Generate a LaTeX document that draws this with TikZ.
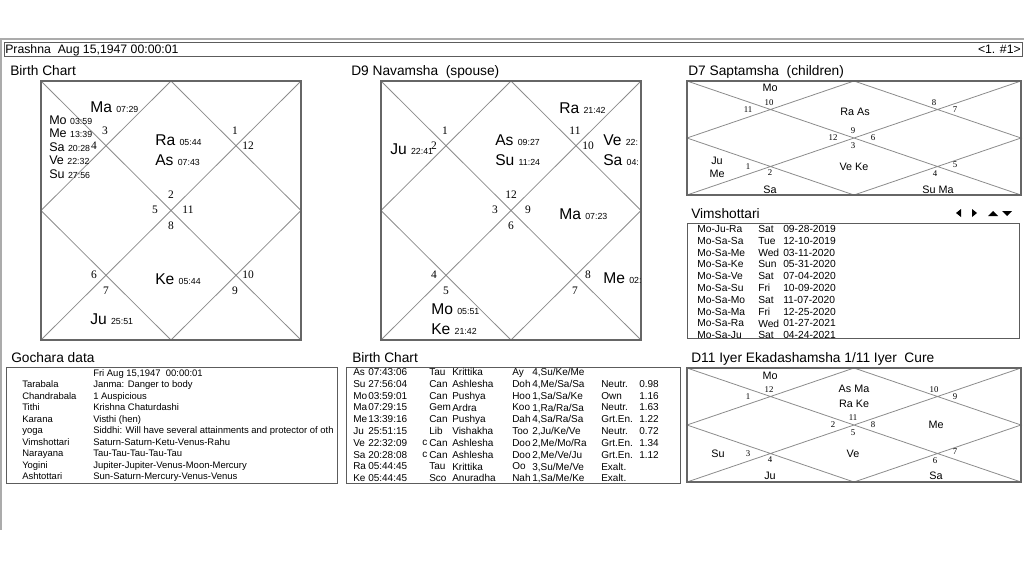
\documentclass[tikz,border=0pt]{standalone}
\usepackage{fontspec}
\setmainfont{Liberation Sans}
\newfontfamily\numfont{Liberation Serif}
\usepackage{tikz}
\definecolor{frameGray}{HTML}{666666}
\definecolor{lineGray}{HTML}{8C8C8C}
\definecolor{edgeGray}{HTML}{ABABAB}
\definecolor{boxGray}{HTML}{5C5C5C}
\newcommand{\ptime}[1]{{\fontsize{6.6}{8}\selectfont #1}}

\begin{document}
\begin{tikzpicture}[x=0.75pt, y=-0.75pt,
  every node/.style={inner sep=0pt, text depth=0pt},
  bartext/.style={anchor=west, font=\fontsize{9.2}{11}\selectfont},
  paneltitle/.style={anchor=west, font=\fontsize{10.3}{12}\selectfont},
  bigpl/.style={anchor=west, font=\fontsize{11.7}{14}\selectfont},
  midpl/.style={anchor=west, font=\fontsize{9.4}{11}\selectfont},
  smallpl/.style={font=\fontsize{8.1}{10}\selectfont},
  hnum/.style={font=\numfont\fontsize{8.6}{10}\selectfont},
  snum/.style={font=\numfont\fontsize{6.6}{8}\selectfont},
  gochrow/.style={anchor=west, font=\fontsize{7.1}{9}\selectfont},
  vimrow/.style={anchor=west, font=\fontsize{7.7}{9}\selectfont},
  bcrow/.style={anchor=west, font=\fontsize{7.5}{9}\selectfont},
  chartline/.style={draw=lineGray, line width=0.6pt},
  chartframe/.style={draw=frameGray, line width=1.5pt},
  databox/.style={draw=boxGray, line width=0.6pt}]
  \path[use as bounding box, fill=white] (0,0) rectangle (1024,576);

  % window edge and header bar
  \draw[edgeGray, line width=0.8pt] (0,39) -- (1024,39) (1,39) -- (1,530);
  \draw[databox] (4,42) rectangle (1022,56);
  \node[bartext] (bar) at (5,49) {Prashna\ \ Aug 15,1947 00:00:01};
  \node[bartext, anchor=east] (page) at (1021,49) {<1. \#1>};

  % panel titles
  \node[paneltitle] (t1) at (10,71) {Birth Chart};
  \node[paneltitle] (t9) at (351,71) {D9 Navamsha\ \ (spouse)};
  \node[paneltitle] (t7) at (688,71) {D7 Saptamsha\ \ (children)};
  \node[paneltitle] (tv) at (691,214) {Vimshottari};
  \node[paneltitle] (tg) at (11,358) {Gochara data};
  \node[paneltitle] (tb) at (352,358) {Birth Chart};
  \node[paneltitle] (t11) at (691,358) {D11 Iyer Ekadashamsha 1/11 Iyer\ \ Cure};

  % square charts, D1 and D9
  \foreach \cn/\dx/\asc in {d1/0/2, d9/340/12} {
    \begin{scope}[shift={(\dx,0)}]
      \draw[chartline] (41,81) -- (301,340) (301,81) -- (41,340)
        (171,81) -- (301,210.5) -- (171,340) -- (41,210.5) -- cycle;
      \foreach \h/\x/\y in {1/171/195, 2/105/131, 3/94/146, 4/155/210,
          5/94/275, 6/106/291, 7/171/226, 8/235/291, 9/248/275,
          10/188/210, 11/248/146, 12/235/131} {
        \pgfmathtruncatemacro{\s}{mod(\h+\asc-2,12)+1}
        \node[hnum] (\cn h\h) at (\x,\y) {\s};
      }
      \draw[chartframe] (41,81) rectangle (301,340);
    \end{scope}
  }
  \foreach \pn/\tm/\x/\y [count=\i] in {Ma/07:29/90/107, Ra/05:44/155/140,
      As/07:43/155/160, Ke/05:44/155/279, Ju/25:51/90/319}
    \node[bigpl] (d1p\i) at (\x,\y) {\pn{} \ptime{\tm}};
  \foreach \pn/\tm/\x/\y [count=\i] in {Mo/03:59/49/120, Me/13:39/49/133,
      Sa/20:28/49/147, Ve/22:32/49/160, Su/27:56/49/174}
    \node[midpl] (d1m\i) at (\x,\y) {\pn{} \ptime{\tm}};
  \foreach \pn/\tm/\x/\y [count=\i] in {Ju/22:41/390/149, As/09:27/495/140,
      Su/11:24/495/160, Ra/21:42/559/108, Ve/22:/603/140, Sa/04:/603/160,
      Ma/07:23/559/214, Me/02:/603/278, Mo/05:51/431/309, Ke/21:42/431/329}
    \node[bigpl] (d9p\i) at (\x,\y) {\pn{} \ptime{\tm}};

  % flat charts, D7 and D11
  \foreach \cn/\dy/\asc in {d7/0/9, d11/287/11} {
    \begin{scope}[shift={(0,\dy)}]
      \draw[chartline] (687,81) -- (1021,195) (1021,81) -- (687,195)
        (854,81) -- (1021,138) -- (854,195) -- (687,138) -- cycle;
      \foreach \h/\x/\y in {1/853/131, 2/769/103, 3/748/110, 4/833/138,
          5/748/167, 6/770/173, 7/853/146, 8/935/174, 9/955/165,
          10/873/138, 11/955/110, 12/934/103} {
        \pgfmathtruncatemacro{\s}{mod(\h+\asc-2,12)+1}
        \node[snum] (\cn h\h) at (\x,\y) {\s};
      }
      \draw[chartframe] (687,81) rectangle (1021,195);
    \end{scope}
  }
  \foreach \tx/\x/\y [count=\i] in {Mo/770/88, Ra As/855/112, Ju/717/161,
      Me/717/174, Sa/770/190, Ve Ke/854/167, Su Ma/938/190}
    \node[smallpl] (d7p\i) at (\x,\y) {\tx};
  \foreach \tx/\x/\y [count=\i] in {Mo/770/376, As Ma/854/389, Ra Ke/854/404,
      Me/936/425, Su/718/454, Ve/853/454, Ju/770/476, Sa/936/476}
    \node[smallpl] (d11p\i) at (\x,\y) {\tx};

  % Vimshottari list
  \fill (956,213) -- (961,209) -- (961,217) -- cycle;
  \fill (972,209) -- (977,213) -- (972,217) -- cycle;
  \fill (988,216) -- (993,211) -- (998,216) -- cycle;
  \fill (1002,211) -- (1012,211) -- (1007,216) -- cycle;
  \draw[databox] (687,223) rectangle (1019,338);
  \foreach \dname/\dday/\ddate [count=\i from 0] in {
      Mo-Ju-Ra/Sat/09-28-2019, Mo-Sa-Sa/Tue/12-10-2019,
      Mo-Sa-Me/Wed/03-11-2020, Mo-Sa-Ke/Sun/05-31-2020,
      Mo-Sa-Ve/Sat/07-04-2020, Mo-Sa-Su/Fri/10-09-2020,
      Mo-Sa-Mo/Sat/11-07-2020, Mo-Sa-Ma/Fri/12-25-2020,
      Mo-Sa-Ra/Wed/01-27-2021, Mo-Sa-Ju/Sat/04-24-2021} {
    \node[vimrow] (vn\i) at (697,{229+11.8*\i}) {\dname};
    \node[vimrow] (vw\i) at (758,{229+11.8*\i}) {\dday};
    \node[vimrow] (vd\i) at (783,{229+11.8*\i}) {\ddate};
  }

  % Gochara data
  \draw[databox] (6,367) rectangle (337,483);
  \node[gochrow] (gdate) at (93,373) {Fri Aug 15,1947\ \ 00:00:01};
  \begin{scope}
    \clip (6,367) rectangle (337,483);
    \foreach \gk/\gv [count=\i] in {Tarabala/Janma: Danger to body,
        Chandrabala/1 Auspicious, Tithi/Krishna Chaturdashi,
        Karana/Visthi (hen),
        yoga/Siddhi: Will have several attainments and protector of oth,
        Vimshottari/Saturn-Saturn-Ketu-Venus-Rahu,
        Narayana/Tau-Tau-Tau-Tau-Tau,
        Yogini/Jupiter-Jupiter-Venus-Moon-Mercury,
        Ashtottari/Sun-Saturn-Mercury-Venus-Venus} {
      \node[gochrow] (gk\i) at (22,{373+11.5*\i}) {\gk};
      \node[gochrow] (gv\i) at (93,{373+11.5*\i}) {\gv};
    }
  \end{scope}

  % Birth chart table
  \draw[databox] (346,367) rectangle (680,483);
  \foreach \pn/\dg/\rt/\sg/\nk/\sy/\pd/\dig/\sv [count=\i from 0] in {
      As/07:43:06/{}/Tau/Krittika/Ay/{4,Su/Ke/Me}/{}/{},
      Su/27:56:04/{}/Can/Ashlesha/Doh/{4,Me/Sa/Sa}/Neutr./0.98,
      Mo/03:59:01/{}/Can/Pushya/Hoo/{1,Sa/Sa/Ke}/Own/1.16,
      Ma/07:29:15/{}/Gem/Ardra/Koo/{1,Ra/Ra/Sa}/Neutr./1.63,
      Me/13:39:16/{}/Can/Pushya/Dah/{4,Sa/Ra/Sa}/Grt.En./1.22,
      Ju/25:51:15/{}/Lib/Vishakha/Too/{2,Ju/Ke/Ve}/Neutr./0.72,
      Ve/22:32:09/c/Can/Ashlesha/Doo/{2,Me/Mo/Ra}/Grt.En./1.34,
      Sa/20:28:08/c/Can/Ashlesha/Doo/{2,Me/Ve/Ju}/Grt.En./1.12,
      Ra/05:44:45/{}/Tau/Krittika/Oo/{3,Su/Me/Ve}/Exalt./{},
      Ke/05:44:45/{}/Sco/Anuradha/Nah/{1,Sa/Me/Ke}/Exalt./{}} {
    \node[bcrow] (bp\i) at (353,{372+11.8*\i}) {\pn};
    \node[bcrow] (bd\i) at (368,{372+11.8*\i}) {\dg};
    \node[bcrow] (br\i) at (422,{372+11.8*\i}) {\rt};
    \node[bcrow] (bs\i) at (429,{372+11.8*\i}) {\sg};
    \node[bcrow] (bn\i) at (452,{372+11.8*\i}) {\nk};
    \node[bcrow] (by\i) at (512,{372+11.8*\i}) {\sy};
    \node[bcrow] (bq\i) at (532,{372+11.8*\i}) {\pd};
    \node[bcrow] (bg\i) at (601,{372+11.8*\i}) {\dig};
    \node[bcrow] (bv\i) at (639,{372+11.8*\i}) {\sv};
  }
\end{tikzpicture}
\end{document}
